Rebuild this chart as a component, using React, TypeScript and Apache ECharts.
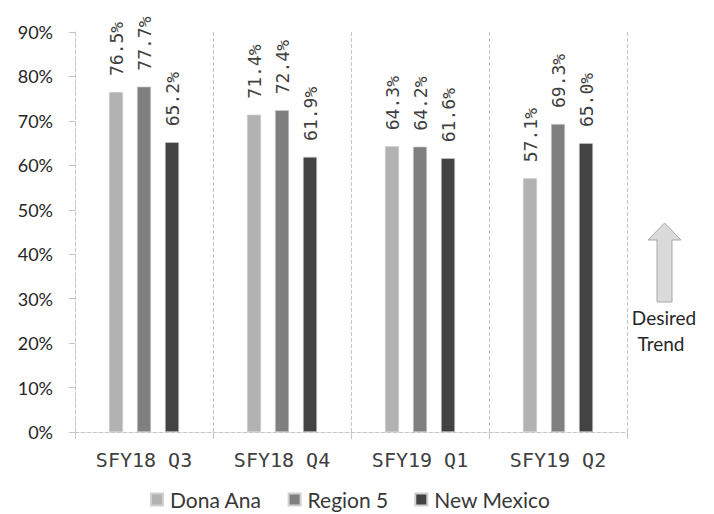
import React, { useEffect, useRef } from "react";
import * as echarts from "echarts";

const categories = ["SFY18 Q3", "SFY18 Q4", "SFY19 Q1", "SFY19 Q2"];
const donaAna = [76.5, 71.4, 64.3, 57.1];
const region5 = [77.7, 72.4, 64.2, 69.3];
const newMexico = [65.2, 61.9, 61.6, 65.0];
const seriesNames = ["Dona Ana", "Region 5", "New Mexico"];
const seriesColors = ["#b2b2b2", "#7f7f7f", "#434343"];
const yTicks = { min: 0, max: 90, interval: 10 };

export default function App() {
  const ref = useRef<HTMLDivElement>(null);
  useEffect(() => {
    if (!ref.current) return;
    const chart = echarts.init(ref.current, undefined, { renderer: "svg" });
    const values = [donaAna, region5, newMexico];
    const labelFont = "DejaVu Sans Mono";
    const sansFont = "Lato";
    chart.setOption({
      animation: false,
      backgroundColor: "#ffffff",
      grid: { left: 75, right: 87, top: 32, bottom: 82, containLabel: false },
      legend: {
        data: seriesNames,
        left: 145,
        top: 484,
        icon: "rect",
        itemWidth: 12,
        itemHeight: 12,
        itemGap: 26,
        textStyle: { fontFamily: sansFont, fontSize: 21, color: "#383838", padding: [0, 0, 0, 2] },
      },
      xAxis: {
        type: "category",
        data: categories,
        axisLine: { show: true, lineStyle: { color: "#c6c6c6", type: "dashed", width: 1 } },
        axisTick: { show: true, length: 7, lineStyle: { color: "#c6c6c6" } },
        splitLine: { show: true, lineStyle: { color: "#c6c6c6", type: "dashed", width: 1 } },
        axisLabel: { fontFamily: labelFont, fontSize: 20, color: "#404040", margin: 18 },
      },
      yAxis: {
        type: "value",
        min: yTicks.min,
        max: yTicks.max,
        interval: yTicks.interval,
        axisLine: { show: true, lineStyle: { color: "#c6c6c6", type: "dashed", width: 1 } },
        axisTick: { show: true, length: 6, lineStyle: { color: "#c6c6c6" } },
        splitLine: { show: false },
        axisLabel: {
          fontFamily: sansFont,
          fontSize: 18,
          color: "#262626",
          margin: 22,
          formatter: (v: number) => v + "%",
        },
      },
      series: seriesNames.map((name, i) => ({
        name,
        type: "bar",
        data: values[i],
        barWidth: 14,
        barGap: "100%",
        itemStyle: { color: seriesColors[i], borderColor: "#d0d0d0", borderWidth: 0.6 },
        label: {
          show: true,
          position: "top",
          rotate: 90,
          align: "left",
          verticalAlign: "middle",
          distance: 16,
          fontFamily: labelFont,
          fontSize: 18,
          color: "#404040",
          formatter: (p: any) => p.value.toFixed(1) + "%",
        },
      })),
      graphic: [
        {
          type: "polygon",
          shape: {
            points: [
              [664.5, 223],
              [681, 240],
              [672, 240],
              [672, 302],
              [657, 302],
              [657, 240],
              [648, 240],
            ],
          },
          style: { fill: "#dadada", stroke: "#a8a8a8", lineWidth: 1 },
        },
        {
          type: "text",
          x: 664,
          y: 317,
          style: {
            text: "Desired",
            fontFamily: sansFont,
            fontSize: 19,
            fill: "#262626",
            textAlign: "center",
            textVerticalAlign: "middle",
          },
        },
        {
          type: "text",
          x: 661,
          y: 343,
          style: {
            text: "Trend",
            fontFamily: sansFont,
            fontSize: 19,
            fill: "#262626",
            textAlign: "center",
            textVerticalAlign: "middle",
          },
        },
      ],
    });
    return () => chart.dispose();
  }, []);
  return (
    <div
      ref={ref}
      style={{ position: "fixed", left: 0, top: 0, width: 714, height: 514, overflow: "hidden" }}
    />
  );
}
